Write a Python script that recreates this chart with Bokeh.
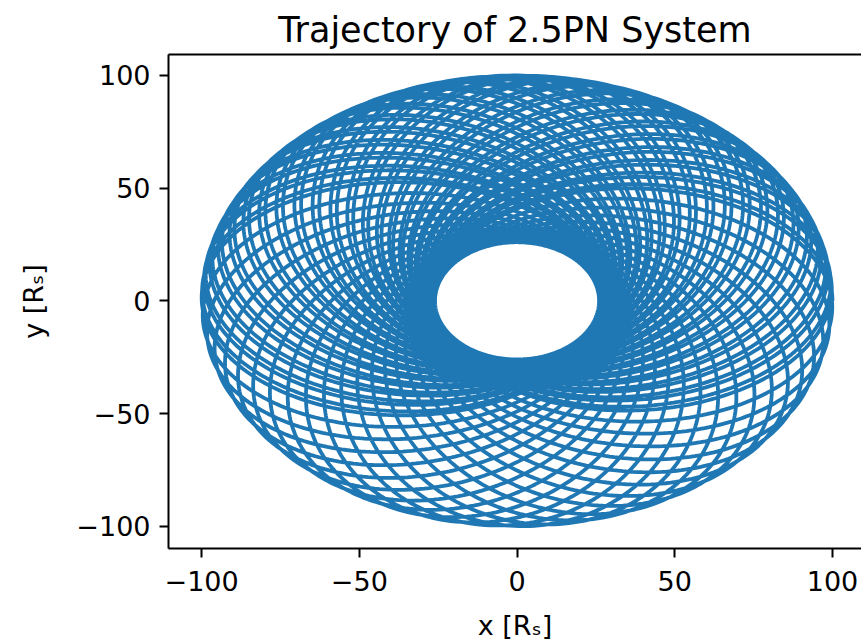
import numpy as np
from bokeh.plotting import figure
from bokeh.models import Range1d, FixedTicker, LinearAxis
from bokeh.embed import file_html
from bokeh.resources import INLINE

# ---- values ----
R_APO = 100.0                  # outer radius of the rosette [R_S]
R_PERI = 26.0                  # radius of the inner hole [R_S]
N_ORBITS = 71                  # number of revolutions
PRECESSION_PER_ORBIT_DEG = 7.6 # periapsis advance per orbit
APO_START_DEG = 0.0            # direction of the first apoapsis
SAMPLES_PER_ORBIT = 400

x_ticks = [-100, -50, 0, 50, 100]
x_tick_labels = ["\u2212100", "\u221250", "0", "50", "100"]
y_ticks = [-100, -50, 0, 50, 100]
y_tick_labels = ["\u2212100", "\u221250", "0", "50", "100"]

TITLE = "Trajectory of 2.5PN System"
X_LABEL = "x [R\u209b]"
Y_LABEL = "y [R\u209b]"

# ---- precessing Kepler orbit ----
a = (R_APO + R_PERI) / 2.0
ecc = (R_APO - R_PERI) / (R_APO + R_PERI)
p_sl = a * (1 - ecc ** 2)
phi = np.linspace(0, 2 * np.pi * N_ORBITS, N_ORBITS * SAMPLES_PER_ORBIT)
omega = np.radians(APO_START_DEG + 180.0) + np.radians(PRECESSION_PER_ORBIT_DEG) * phi / (2 * np.pi)
r = p_sl / (1 + ecc * np.cos(phi - omega))
xs = r * np.cos(phi)
ys = r * np.sin(phi)

FONT = "DejaVu Sans"
BLUE = "#1f77b4"

p = figure(width=861, height=643, output_backend="svg", toolbar_location=None,
           x_range=Range1d(-110.5, 109.2), y_range=Range1d(-109.9, 109.3),
           min_border_left=168, min_border_right=0, min_border_top=54, min_border_bottom=95,
           title=TITLE)
p.outline_line_color = None
p.grid.visible = False
p.background_fill_color = "white"
p.border_fill_color = "white"

p.title.text_font = FONT
p.title.text_font_size = "35px"
p.title.text_font_style = "normal"
p.title.align = "center"
p.title.text_color = "black"

p.line(xs, ys, line_width=3.8, line_color=BLUE)

for ax, ticks, labels in ((p.xaxis[0], x_ticks, x_tick_labels), (p.yaxis[0], y_ticks, y_tick_labels)):
    ax.ticker = FixedTicker(ticks=ticks)
    ax.major_label_overrides = {t: l for t, l in zip(ticks, labels)}
    ax.major_label_text_font = FONT
    ax.major_label_text_font_size = "27px"
    ax.major_label_text_color = "black"
    ax.axis_line_width = 2
    ax.axis_line_color = "black"
    ax.major_tick_line_width = 2
    ax.major_tick_out = 9
    ax.major_tick_in = 0
    ax.minor_tick_out = 0
    ax.minor_tick_in = 0
    ax.axis_label_text_font = FONT
    ax.axis_label_text_font_size = "27px"
    ax.axis_label_text_font_style = "normal"
    ax.axis_label_text_color = "black"

p.xaxis.major_label_standoff = 13
p.yaxis.major_label_standoff = 9
p.xaxis.axis_label = X_LABEL
p.yaxis.axis_label = Y_LABEL
p.xaxis.axis_label_standoff = 16
p.yaxis.axis_label_standoff = 24

top = LinearAxis(ticker=FixedTicker(ticks=[]), major_tick_out=0, major_tick_in=0,
                 minor_tick_out=0, minor_tick_in=0, major_label_text_font_size="0px",
                 axis_line_width=2, axis_line_color="black")
p.add_layout(top, "above")

open("out.html", "w").write(file_html(p, INLINE))
